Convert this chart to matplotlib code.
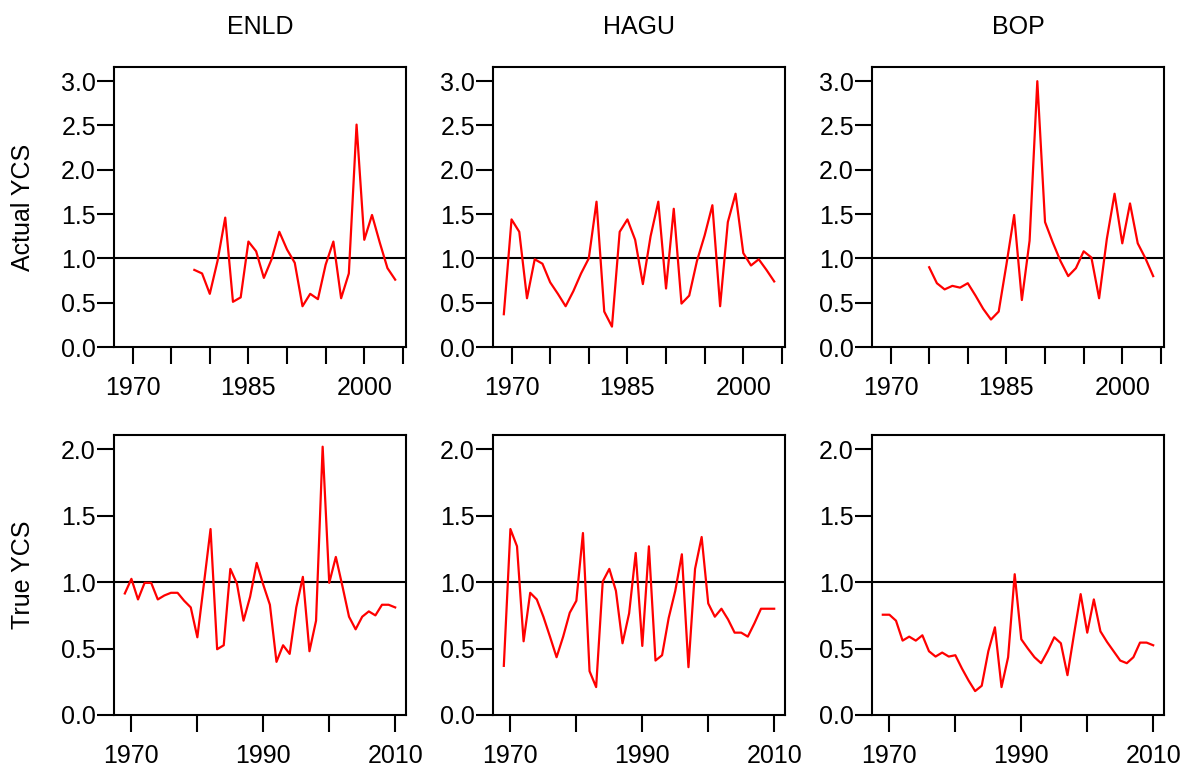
#!/usr/bin/env python

""" actual vs true year class strength for three areas """

import numpy as np
import matplotlib
matplotlib.use("Agg")
import matplotlib.pyplot as plt

plt.rcParams['font.family'] = ['Liberation Sans', 'DejaVu Sans']

areas = ["ENLD", "HAGU", "BOP"]
row_labels = ["Actual YCS", "True YCS"]

# actual YCS (top row), each series has its own start year
enld_actual_years = np.arange(1978, 2005)
enld_actual = [0.87, 0.83, 0.60, 0.97, 1.46, 0.51, 0.56, 1.19, 1.08, 0.78,
               0.99, 1.30, 1.10, 0.95, 0.46, 0.60, 0.54, 0.93, 1.19, 0.55,
               0.83, 2.51, 1.21, 1.49, 1.18, 0.89, 0.76]

hagu_actual_years = np.arange(1969, 2005)
hagu_actual = [0.37, 1.44, 1.30, 0.55, 0.99, 0.94, 0.73, 0.60, 0.46, 0.63,
               0.83, 1.00, 1.64, 0.40, 0.23, 1.30, 1.44, 1.21, 0.71, 1.25,
               1.64, 0.66, 1.56, 0.49, 0.58, 0.97, 1.26, 1.60, 0.46, 1.41,
               1.73, 1.06, 0.92, 0.99, 0.87, 0.74]

bop_actual_years = np.arange(1975, 2005)
bop_actual = [0.90, 0.72, 0.65, 0.69, 0.67, 0.72, 0.58, 0.43, 0.31, 0.40,
              0.93, 1.49, 0.53, 1.20, 3.00, 1.41, 1.18, 0.97, 0.80, 0.89,
              1.08, 1.01, 0.55, 1.22, 1.73, 1.17, 1.62, 1.17, 1.00, 0.80]

# true YCS (bottom row), 1969-2010
true_years = np.arange(1969, 2011)
enld_true = [0.915, 1.025, 0.87, 0.995, 0.995, 0.87, 0.90, 0.92, 0.92, 0.86,
             0.81, 0.585, 0.99, 1.40, 0.495, 0.525, 1.10, 0.99, 0.71, 0.89,
             1.145, 0.98, 0.83, 0.40, 0.525, 0.46, 0.81, 1.04, 0.48, 0.71,
             2.02, 0.995, 1.19, 0.97, 0.74, 0.645, 0.74, 0.78, 0.75, 0.83,
             0.83, 0.81]
hagu_true = [0.37, 1.40, 1.27, 0.555, 0.92, 0.87, 0.74, 0.59, 0.435, 0.59,
             0.77, 0.86, 1.37, 0.33, 0.21, 1.005, 1.10, 0.935, 0.54, 0.765,
             1.22, 0.52, 1.27, 0.41, 0.45, 0.73, 0.935, 1.21, 0.36, 1.10,
             1.34, 0.84, 0.74, 0.80, 0.72, 0.62, 0.62, 0.59, 0.69, 0.80,
             0.80, 0.80]
bop_true = [0.755, 0.755, 0.71, 0.56, 0.59, 0.56, 0.60, 0.48, 0.44, 0.47,
            0.44, 0.45, 0.35, 0.26, 0.18, 0.22, 0.48, 0.66, 0.21, 0.435,
            1.06, 0.57, 0.50, 0.435, 0.39, 0.48, 0.585, 0.54, 0.30, 0.61,
            0.91, 0.62, 0.87, 0.63, 0.55, 0.48, 0.41, 0.39, 0.435, 0.545,
            0.545, 0.525]

top_series = [(enld_actual_years, enld_actual),
              (hagu_actual_years, hagu_actual),
              (bop_actual_years, bop_actual)]
bottom_series = [(true_years, enld_true),
                 (true_years, hagu_true),
                 (true_years, bop_true)]

top_xticks = [1970, 1975, 1980, 1985, 1990, 1995, 2000, 2005]
top_xlabels = ["1970", "", "", "1985", "", "", "2000", ""]
bottom_xticks = [1970, 1980, 1990, 2000, 2010]
bottom_xlabels = ["1970", "", "1990", "", "2010"]

W, H = 1186, 768
fig = plt.figure(figsize=(W / 100, H / 100), dpi=100)

lefts = [114, 493, 872]
width = 292
tops = [67, 435]
height = 280
fs = 18


def style_axis(ax):
    for sp in ax.spines.values():
        sp.set_linewidth(1.5)
    ax.tick_params(axis='both', length=12, width=1.5, labelsize=fs,
                   direction='out')
    ax.tick_params(axis='y', pad=1)
    ax.tick_params(axis='x', pad=9)


for row in range(2):
    for col in range(3):
        rect = [lefts[col] / W, 1 - (tops[row] + height) / H,
                width / W, height / H]
        ax = fig.add_axes(rect)
        if row == 0:
            xs, ys = top_series[col]
            ax.set_xlim(1967.6, 2005.4)
            ax.set_ylim(0, 3.16)
            ax.set_yticks([0, 0.5, 1.0, 1.5, 2.0, 2.5, 3.0])
            ax.set_xticks(top_xticks)
            ax.set_xticklabels(top_xlabels)
            ax.set_title(areas[col], fontsize=fs, pad=24)
        else:
            xs, ys = bottom_series[col]
            ax.set_xlim(1967.36, 2011.64)
            ax.set_ylim(0, 2.108)
            ax.set_yticks([0, 0.5, 1.0, 1.5, 2.0])
            ax.set_xticks(bottom_xticks)
            ax.set_xticklabels(bottom_xlabels)
        ax.yaxis.set_major_formatter(matplotlib.ticker.FormatStrFormatter('%.1f'))
        ax.axhline(1.0, color='black', linewidth=1.5)
        ax.plot(xs, ys, color='red', linewidth=1.6)
        style_axis(ax)
        if col == 0:
            ax.set_ylabel(row_labels[row], fontsize=fs, labelpad=19)

fig.savefig("out.png", dpi=100)
